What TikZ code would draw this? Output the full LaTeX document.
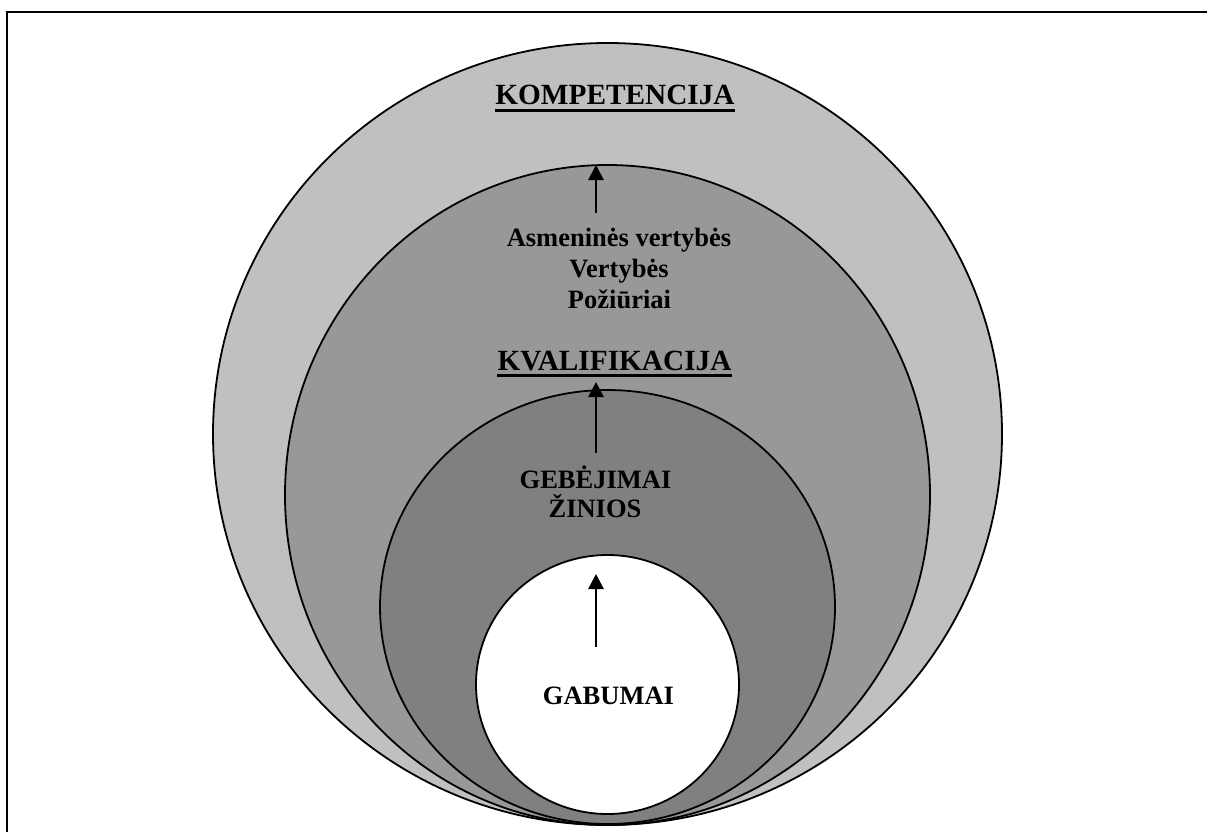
\documentclass[tikz,border=0pt]{standalone}
\usepackage{fontspec}
\setmainfont{Liberation Serif}
\usetikzlibrary{arrows.meta}
\definecolor{ringA}{RGB}{192,192,192}
\definecolor{ringB}{RGB}{152,152,152}
\definecolor{ringC}{RGB}{128,128,128}
\begin{document}
\begin{tikzpicture}[x=1pt,y=-1pt,
  ring/.style={draw=black,line width=1.8pt},
  lbl/.style={inner sep=0pt,anchor=base,font=\fontsize{26.5}{31}\selectfont\bfseries},
  ttl/.style={inner sep=0pt,anchor=base,font=\fontsize{29.3}{34}\selectfont\bfseries},
  uline/.style={line width=2.4pt},
  up/.style={line width=2.8pt,-{Triangle[width=15pt,length=15pt]}}]
\useasboundingbox (0,0) rectangle (1207,832);
\fill[white] (0,0) rectangle (1207,832);
% page frame (top and left edges)
\draw[line width=2pt] (1207,12) -- (7,12) -- (7,832);
% nested rings
\draw[ring,fill=ringA] (607.5,434) ellipse [x radius=394.5,y radius=391];
\draw[ring,fill=ringB] (607.5,495) ellipse [x radius=322.5,y radius=330];
\draw[ring,fill=ringC] (607.5,607) ellipse [x radius=227.5,y radius=217];
\draw[ring,fill=white] (607.5,684.5) ellipse [x radius=131.5,y radius=129.5];
% labels
\node[ttl] (komp) at (615,105) {KOMPETENCIJA};
\draw[uline] ([yshift=-5.5pt]komp.base west) -- ([yshift=-5.5pt]komp.base east);
\node[lbl] (asm) at (619,246) {Asmeninės vertybės};
\node[lbl] (vert) at (619,277) {Vertybės};
\node[lbl] (poz) at (619.5,308) {Požiūriai};
\node[ttl] (kval) at (614.5,370) {KVALIFIKACIJA};
\draw[uline] ([yshift=-5.5pt]kval.base west) -- ([yshift=-5.5pt]kval.base east);
\node[lbl] (geb) at (595.5,488) {GEBĖJIMAI};
\node[lbl] (zin) at (595,517) {ŽINIOS};
\node[lbl] (gab) at (608.5,704) {GABUMAI};
% arrows
\coordinate (a1s) at (596,213);
\coordinate (a1e) at (596,165);
\coordinate (a2s) at (596,453);
\coordinate (a2e) at (596,382);
\coordinate (a3s) at (596,647);
\coordinate (a3e) at (596,574);
\draw[up] (a1s) -- (a1e);
\draw[up] (a2s) -- (a2e);
\draw[up] (a3s) -- (a3e);
\end{tikzpicture}
\end{document}
